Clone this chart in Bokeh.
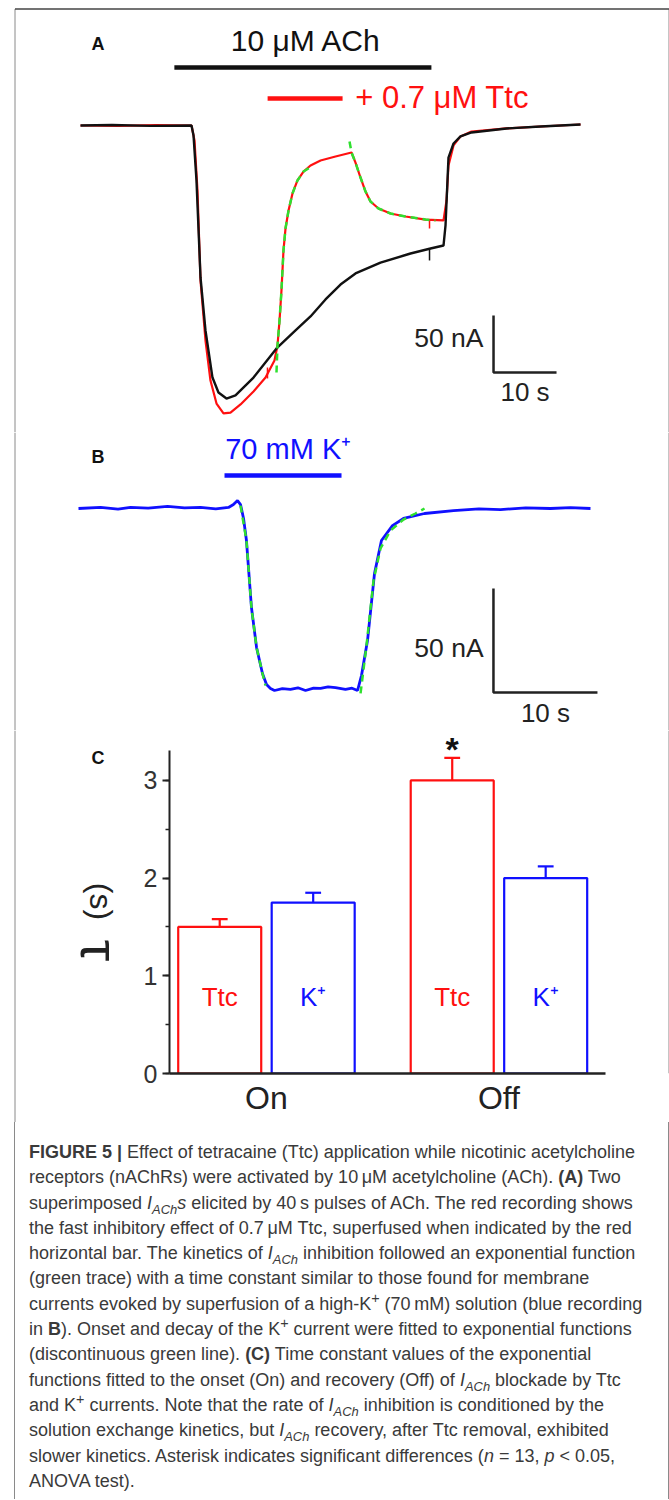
import math
from bokeh.plotting import figure
from bokeh.models import Range1d, ColumnDataSource, Div, FixedTicker, SingleIntervalTicker
from bokeh.layouts import column, row
from bokeh.embed import file_html
from bokeh.resources import INLINE
from bokeh.core.properties import value

FONT = "Liberation Sans"
RED = "#ff1010"
BLACK = "#111111"
BLUE = "#1010ff"
GREEN = "#2fe02f"
FRAME = "#8a8a8a"
FRAME_TOP = "#454545"

# ---------------- Panel A : ACh currents (time s, current nA) ----------------
ach_on, ach_off = 14.9, 55.7          # 10 uM ACh application (s)
ttc_on, ttc_off = 29.7, 41.6          # 0.7 uM Ttc application (s)

black_t = [0.0, 5.0, 11.1, 17.62, 17.94, 18.41, 19.05, 19.84, 20.95, 21.90, 23.17, 24.60, 27.46,
           31.11, 34.13, 36.51, 38.89, 41.27, 43.65, 47.62, 52.38, 55.56, 57.62, 57.94, 58.41,
           59.21, 60.32, 62.06, 67.62, 73.02, 79.37]
black_i = [0.0, 0.4, -0.3, 0.0, -8.8, -48.2, -133.3, -179.8, -221.1, -234.2, -239.5, -236.8, -221.1,
           -195.6, -179.8, -167.5, -152.6, -139.5, -129.8, -120.2, -112.3, -107.9, -105.3, -87.7, -28.1,
           -15.8, -9.6, -6.1, -2.6, -0.9, 0.9]

red_t = [0.0, 6.0, 12.0, 17.62, 18.10, 18.57, 19.05, 19.84, 20.63, 21.59, 22.70, 23.81, 25.40, 27.46,
         29.37, 30.79, 31.27, 31.59, 31.90, 32.22, 32.54, 33.02, 33.65, 34.44, 35.40, 36.51, 38.10,
         40.48, 43.02, 43.65, 44.44, 45.24, 46.03, 47.30, 49.21, 51.59, 54.76, 57.62, 58.10, 58.41,
         59.21, 60.32, 62.06, 67.62, 73.02, 79.37]
red_i = [0.0, -0.4, 0.3, 0.0, -13.2, -57.0, -136.0, -188.6, -223.7, -243.9, -252.6, -251.8, -244.7, -233.3,
         -221.1, -206.1, -193.0, -171.1, -144.7, -109.6, -90.4, -74.6, -59.6, -48.2, -40.4, -35.1, -30.7,
         -27.2, -23.7, -32.5, -45.6, -57.9, -66.7, -72.8, -77.2, -79.8, -82.5, -83.3, -65.8, -35.1,
         -17.5, -9.6, -5.3, -2.6, -0.9, 0.9]

# exponential fits (green dashed)
fit_on_t = [31.11, 31.27, 31.59, 31.90, 32.22, 32.54, 33.02, 33.65, 34.44, 35.40, 36.90]
fit_on_i = [-216.7, -193.0, -171.1, -144.7, -109.6, -90.4, -74.6, -59.6, -48.2, -40.4, -35.1]
fit_off_t = [42.70, 43.02, 43.65, 44.44, 45.24, 46.03, 47.30, 49.21, 51.59, 54.76, 56.35]
fit_off_i = [-14.0, -23.7, -32.5, -45.6, -57.9, -66.7, -72.8, -77.2, -79.8, -82.5, -83.3]

# small event marks on the recordings
mark_t = [29.68, 55.40, 55.40]
mark_top = [-212.3, -83.3, -107.9]
mark_bot = [-221.9, -90.4, -118.4]
mark_col = [RED, RED, BLACK]

# ---------------- Panel B : 70 mM K+ current ----------------
k_on, k_off = 14.04, 25.29
k_t = [0.0, 2.12, 3.8, 5.0, 6.7, 8.56, 10.2, 11.73, 13.2, 14.42, 14.90, 15.29, 15.58, 15.87, 16.15,
       16.63, 17.12, 17.69, 18.08, 18.46, 18.85, 19.6, 20.38, 21.1, 21.83, 22.6, 23.27, 24.0, 24.71,
       25.67, 26.3, 26.83, 27.21, 27.79, 28.46, 29.13, 30.19, 31.25, 33.27, 36.06, 38.5, 40.58,
       43.0, 45.38, 47.3, 49.23]
k_i = [0.0, 0.5, -0.3, 0.5, 0.2, 1.0, 0.3, 0.5, -0.2, 0.5, 1.9, 3.8, 1.9, -4.8, -15.4,
       -47.6, -66.8, -79.3, -84.6, -86.5, -87.5, -86.6, -87.0, -86.2, -87.5, -86.4, -86.5, -85.8, -86.1,
       -87.0, -86.4, -87.5, -80.3, -63.5, -31.3, -15.4, -8.2, -4.8, -2.4, -1.0, -0.2, -0.5,
       0.3, 0.0, 0.4, 0.0]
fitk_on_t = [15.58, 16.15, 16.63, 17.12, 17.69, 17.98]
fitk_on_i = [1.4, -15.4, -47.6, -66.8, -79.3, -85.1]
fitk_off_t = [27.12, 27.69, 28.37, 29.04, 30.00, 31.25, 32.40, 33.27]
fitk_off_i = [-88.9, -65.9, -34.6, -19.2, -10.6, -5.3, -2.4, 0.0]

# ---------------- Panel C : time constants ----------------
groups = ["On", "Off"]
agents = ["Ttc", "K\u207a"]
tau_mean = [[1.50, 1.75], [3.00, 2.00]]
tau_sem = [[0.08, 0.10], [0.23, 0.12]]
agent_colors = [RED, BLUE]
significant = [[False, False], [True, False]]

# ---------------- page geometry (pixels) ----------------
PAGE_X0, PAGE_X1 = 0, 669            # the Bokeh page template has no body margin
FR_L, FR_R, FR_T = 14.5, 668.5, 8.5  # frame lines of the figure box
WFULL = PAGE_X1 - PAGE_X0
HA, HB, HC, HCAP = 432, 298, 392, 377
YA0 = 0
YB0 = YA0 + HA
YC0 = YB0 + HB


def bare(p):
    p.grid.visible = False
    p.outline_line_color = None
    p.background_fill_color = "white"
    p.border_fill_color = "white"


def txt(p, x, y, s, size, color=BLACK, align="center", bold=False, angle=0.0):
    p.text(x=[x], y=[y], text=[s], text_font=value(FONT), text_font_size=size,
           text_font_style="bold" if bold else "normal", text_align=align,
           text_baseline="middle", text_color=color, angle=angle)


# ======== Panel A figure (trace calibration: t=0 at x=80 px, 6.3 px/s; 0 nA at y=125 px, 1.14 px/nA) ====
def tA(px): return (px - 80) / 6.3
def iA(py): return (125 - py) / 1.14


pA = figure(width=WFULL, height=HA, x_range=Range1d(tA(PAGE_X0), tA(PAGE_X1)),
            y_range=Range1d(iA(YA0 + HA), iA(YA0)),
            output_backend="svg", toolbar_location=None, min_border=0, frame_align=False,
            x_axis_location=None, y_axis_location=None)
bare(pA)
pA.segment(x0=[tA(FR_L), tA(FR_R)], y0=[iA(FR_T), iA(FR_T)], x1=[tA(FR_L), tA(FR_R)],
           y1=[iA(YA0 + HA), iA(YA0 + HA)], line_color=FRAME, line_width=1)
pA.segment(x0=[tA(FR_L)], y0=[iA(FR_T)], x1=[tA(FR_R)], y1=[iA(FR_T)], line_color=FRAME_TOP, line_width=1.3)
pA.line(red_t, red_i, line_color=RED, line_width=2.2)
pA.line(black_t, black_i, line_color=BLACK, line_width=2.4)
pA.segment(x0=mark_t, y0=mark_top, x1=mark_t, y1=mark_bot, line_color=mark_col, line_width=1.5)
pA.line(fit_on_t, fit_on_i, line_color=GREEN, line_width=2.5, line_dash="7 5")
pA.line(fit_off_t, fit_off_i, line_color=GREEN, line_width=2.5, line_dash="7 5")
pA.segment(x0=[ach_on], y0=[50.9], x1=[ach_off], y1=[50.9], line_color=BLACK, line_width=4.5)
pA.segment(x0=[ttc_on], y0=[23.7], x1=[ttc_off], y1=[23.7], line_color=RED, line_width=4.5)
txt(pA, (ach_on + ach_off) / 2 + 0.5, 74.6, "10 \u03bcM ACh", "30px")
txt(pA, ttc_off + 2.0, 24.6, "+ 0.7 \u03bcM Ttc", "31px", color=RED, align="left")
txt(pA, tA(97.5), iA(43), "A", "18px", bold=True)
sbA_t, sbA_i = 65.56, -216.7
pA.line([sbA_t, sbA_t, sbA_t + 10], [sbA_i + 50, sbA_i, sbA_i], line_color="#222222", line_width=2.5)
txt(pA, sbA_t - 1.6, sbA_i + 30, "50 nA", "26.5px", color="#222222", align="right")
txt(pA, sbA_t + 5, sbA_i - 17.5, "10 s", "26px", color="#222222")

# ======== Panel B figure (t=0 at x=78 px, 10.4 px/s; 0 nA at y=508 px, 2.08 px/nA) ========
def tB(px): return (px - 78) / 10.4
def iB(py): return (508 - py) / 2.08


pB = figure(width=WFULL, height=HB, x_range=Range1d(tB(PAGE_X0), tB(PAGE_X1)),
            y_range=Range1d(iB(YB0 + HB), iB(YB0)),
            output_backend="svg", toolbar_location=None, min_border=0, frame_align=False,
            x_axis_location=None, y_axis_location=None)
bare(pB)
pB.segment(x0=[tB(FR_L), tB(FR_R)], y0=[iB(YB0), iB(YB0)], x1=[tB(FR_L), tB(FR_R)],
           y1=[iB(YB0 + HB), iB(YB0 + HB)], line_color=FRAME, line_width=1)
pB.line(k_t, k_i, line_color=BLUE, line_width=2.8)
pB.line(fitk_on_t, fitk_on_i, line_color=GREEN, line_width=2.5, line_dash="7 5")
pB.line(fitk_off_t, fitk_off_i, line_color=GREEN, line_width=2.5, line_dash="7 5")
pB.segment(x0=[k_on], y0=[15.9], x1=[k_off], y1=[15.9], line_color=BLUE, line_width=4.5)
txt(pB, (k_on + k_off) / 2 + 0.5, 28.8, "70 mM K\u207a", "29px", color=BLUE)
txt(pB, tB(97.5), iB(456), "B", "18px", bold=True)
sbB_t, sbB_i = 39.90, -88.5
pB.line([sbB_t, sbB_t, sbB_t + 10], [sbB_i + 50, sbB_i, sbB_i], line_color="#222222", line_width=2.5)
txt(pB, sbB_t - 0.95, sbB_i + 21.2, "50 nA", "26.5px", color="#222222", align="right")
txt(pB, sbB_t + 5, sbB_i - 9.6, "10 s", "26px", color="#222222")

# ======== Panel C ========
sub_off = 0.201
bar_w = 0.357
xs, tops, errs, cols, labs, ast_x, ast_y = [], [], [], [], [], [], []
for gi, g in enumerate(groups):
    for si, a in enumerate(agents):
        x = gi + (si - 0.5) * 2 * sub_off
        xs.append(x)
        tops.append(tau_mean[gi][si])
        errs.append(tau_mean[gi][si] + tau_sem[gi][si])
        cols.append(agent_colors[si])
        labs.append(a)
        if significant[gi][si]:
            ast_x.append(x)
            ast_y.append(tau_mean[gi][si] + tau_sem[gi][si])
src = ColumnDataSource(dict(x=xs, top=tops, err=errs, col=cols, lab=labs,
                            cl=[v - 0.034 for v in xs], cr=[v + 0.034 for v in xs],
                            ly=[0.78] * len(xs)))

# left strip of panel C (page pixel coordinates): panel letter and y-axis title
CL_W = 129 - PAGE_X0
pCL = figure(width=CL_W, height=HC, x_range=Range1d(PAGE_X0, PAGE_X0 + CL_W),
             y_range=Range1d(YC0 + HC, YC0),
             output_backend="svg", toolbar_location=None, min_border=0, frame_align=False,
             x_axis_location=None, y_axis_location=None)
bare(pCL)
pCL.segment(x0=[FR_L], y0=[YC0], x1=[FR_L], y1=[YC0 + HC], line_color=FRAME, line_width=1)
txt(pCL, 97.5, 757, "C", "18px", bold=True)
txt(pCL, 99, 950, "\u03c4", "54px", color="#222222", angle=-math.pi / 2)
txt(pCL, 100, 901, "(s)", "32px", color="#222222", angle=-math.pi / 2)

# main bar chart: axis at x=169 px, 232.5 px per group; y=0 at 1073 px, 97.7 px per second
CM_W = WFULL - CL_W
X_LEFT = -0.417
X_PX = 232.5
pC = figure(width=CM_W, height=HC,
            x_range=Range1d(X_LEFT, X_LEFT + (PAGE_X1 - 169) / X_PX),
            y_range=Range1d(0, (1073 - YC0) / 97.7),
            output_backend="svg", toolbar_location=None, frame_align=False,
            min_border_left=40, min_border_right=0, min_border_top=0, min_border_bottom=49)
bare(pC)
xr = X_LEFT + (FR_R - 169) / X_PX
pC.segment(x0=[xr], y0=[0], x1=[xr], y1=[(1073 - YC0) / 97.7], line_color=FRAME, line_width=1)
pC.vbar(x="x", width=bar_w, top="top", bottom=0, source=src, fill_color="white",
        line_color="col", line_width=2.2)
pC.segment(x0="x", y0="top", x1="x", y1="err", source=src, line_color="col", line_width=2.2)
pC.segment(x0="cl", y0="err", x1="cr", y1="err", source=src, line_color="col", line_width=2.2)
pC.text(x="x", y="ly", text="lab", source=src, text_color="col", text_font=value(FONT),
        text_font_size="26px", text_align="center", text_baseline="middle")
pC.text(x=ast_x, y=ast_y, text=["*"] * len(ast_x), text_font=value(FONT), text_font_style="bold",
        text_font_size="34px", text_align="center", text_baseline="middle", y_offset=-9,
        text_color=BLACK)

yax = pC.yaxis[0]
yax.ticker = SingleIntervalTicker(interval=1, num_minor_ticks=2)
yax.bounds = (0, 3.306)
yax.major_label_text_font = FONT
yax.major_label_text_font_size = "25px"
yax.major_label_text_color = "#333333"
yax.major_label_standoff = 5
yax.axis_line_width = 2
yax.axis_line_color = "#222222"
yax.major_tick_line_color = "#222222"
yax.major_tick_line_width = 2
yax.major_tick_out = 7
yax.major_tick_in = 0
yax.minor_tick_line_color = "#222222"
yax.minor_tick_line_width = 1.5
yax.minor_tick_out = 4
yax.minor_tick_in = 0

xax = pC.xaxis[0]
xax.ticker = FixedTicker(ticks=[0, 1])
xax.bounds = (X_LEFT, X_LEFT + (605 - 169) / X_PX)
xax.major_label_overrides = {0: groups[0], 1: groups[1]}
xax.major_label_text_font = FONT
xax.major_label_text_font_size = "32px"
xax.major_label_text_color = "#222222"
xax.major_label_standoff = 6
xax.axis_line_width = 2.5
xax.axis_line_color = "#222222"
xax.major_tick_line_color = None
xax.major_tick_out = 0
xax.major_tick_in = 0
xax.minor_tick_line_color = None

# ======== Caption ========
I_ACH = '<i>I</i><sub style="font-size:0.72em;line-height:0"><i>ACh</i></sub>'
KP = 'K<sup style="font-size:0.8em;line-height:0">+</sup>'
lines = [
    '<b>FIGURE 5 |</b> Effect of tetracaine (Ttc) application while nicotinic acetylcholine',
    'receptors (nAChRs) were activated by 10\u2009\u03bcM acetylcholine (ACh). <b>(A)</b> Two',
    'superimposed ' + I_ACH + '<i>s</i> elicited by 40\u2009s pulses of ACh. The red recording shows',
    'the fast inhibitory effect of 0.7\u2009\u03bcM Ttc, superfused when indicated by the red',
    'horizontal bar. The kinetics of ' + I_ACH + ' inhibition followed an exponential function',
    '(green trace) with a time constant similar to those found for membrane',
    'currents evoked by superfusion of a high-' + KP + ' (70\u2009mM) solution (blue recording',
    'in <b>B</b>). Onset and decay of the ' + KP + ' current were fitted to exponential functions',
    '(discontinuous green line). <b>(C)</b> Time constant values of the exponential',
    'functions fitted to the onset (On) and recovery (Off) of ' + I_ACH + ' blockade by Ttc',
    'and ' + KP + ' currents. Note that the rate of ' + I_ACH + ' inhibition is conditioned by the',
    'solution exchange kinetics, but ' + I_ACH + ' recovery, after Ttc removal, exhibited',
    'slower kinetics. Asterisk indicates significant differences (<i>n</i> = 13, <i>p</i> &lt; 0.05,',
    'ANOVA test).',
]
html = ('<div style="box-sizing:border-box;margin:0 0 0 %dpx;width:%dpx;height:%dpx;'
        'border-left:1px solid %s;border-right:1px solid %s;'
        'font-family:\'Liberation Sans\';font-size:18px;line-height:25.3px;'
        'color:#3a3a3a;white-space:nowrap;padding:18px 0 0 14px;">'
        % (14 - PAGE_X0, 669 - 14, HCAP, FRAME, FRAME)
        + '<br>'.join(lines) + '</div>')
cap = Div(text=html, width=WFULL, height=HCAP, margin=0)

panelC = row(pCL, pC, width=WFULL, height=HC)
layout = column(pA, pB, panelC, cap, width=WFULL, height=HA + HB + HC + HCAP)

open("out.html", "w").write(file_html(layout, INLINE))
